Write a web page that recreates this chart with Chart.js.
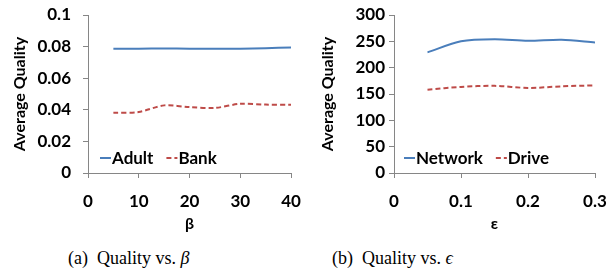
<!DOCTYPE html>
<html><head><meta charset="utf-8">
<script src="https://cdn.jsdelivr.net/npm/chart.js@4.4.0/dist/chart.umd.min.js"></script>
<style>
html,body{margin:0;padding:0;background:#fff;width:616px;height:272px;overflow:hidden;}
.wrap{position:absolute;top:0;width:308px;height:236px;}
.cap{position:absolute;top:248px;font-family:"Liberation Serif","Times New Roman",serif;font-size:18px;color:#000;white-space:nowrap;}
</style></head>
<body>
<div class="wrap" style="left:0"><canvas id="c1" width="308" height="236"></canvas></div>
<div class="wrap" style="left:308px"><canvas id="c2" width="308" height="236"></canvas></div>
<div class="cap" style="left:68px">(a)&nbsp; Quality vs. <i>β</i></div>
<div class="cap" style="left:332px">(b)&nbsp; Quality vs. <i>ϵ</i></div>
<script>
// ---- data ----
const betaValues = [5, 10, 15, 20, 25, 30, 35, 40];
const adultQuality = [0.0787, 0.0787, 0.0788, 0.0787, 0.0786, 0.0787, 0.0790, 0.0794];
const bankQuality  = [0.0381, 0.0386, 0.0428, 0.0417, 0.0412, 0.0438, 0.0433, 0.0432];
const epsValues = [0.05, 0.1, 0.15, 0.2, 0.25, 0.3];
const networkQuality = [229, 250, 254, 251, 253, 248];
const driveQuality   = [158, 163.5, 165.5, 161.5, 164.5, 166.5];
const betaTicks = [0, 10, 20, 30, 40];
const betaTickLabels = ['0', '10', '20', '30', '40'];
const qualATicks = [0, 0.02, 0.04, 0.06, 0.08, 0.1];
const qualATickLabels = ['0', '0.02', '0.04', '0.06', '0.08', '0.1'];
const epsTicks = [0, 0.1, 0.2, 0.3];
const epsTickLabels = ['0', '0.1', '0.2', '0.3'];
const qualBTicks = [0, 50, 100, 150, 200, 250, 300];
const qualBTickLabels = ['0', '50', '100', '150', '200', '250', '300'];

const BLUE = '#4a7ebb', RED = '#be4b48', AXIS = '#868686';
const FONT = 'Lato, "DejaVu Sans", sans-serif';

function pts(xs, ys){ return xs.map((x,i)=>({x:x, y:ys[i]})); }

const legendPlugin = {
  id: 'inLegend',
  afterDraw(chart, args, opts){
    const ctx = chart.ctx, ca = chart.chartArea;
    let x = ca.left + opts.dx;
    const y = ca.bottom - opts.dy;
    ctx.save();
    ctx.font = 'bold 17px ' + FONT;
    ctx.textBaseline = 'middle';
    chart.data.datasets.forEach(ds => {
      ctx.strokeStyle = ds.borderColor;
      ctx.lineWidth = 2;
      ctx.setLineDash(ds.borderDash || []);
      ctx.beginPath(); ctx.moveTo(x, y); ctx.lineTo(x + 11, y); ctx.stroke();
      ctx.setLineDash([]);
      x += 12;
      ctx.fillStyle = '#000';
      ctx.fillText(ds.label, x, y + 1);
      x += ctx.measureText(ds.label).width + 13;
    });
    ctx.restore();
  }
};

function makeChart(id, cfg){
  const yw = cfg.yWidth;
  return new Chart(document.getElementById(id), {
    type: 'line',
    data: { datasets: [
      { label: cfg.l1, data: pts(cfg.xs, cfg.y1), borderColor: BLUE, borderWidth: 2, pointRadius: 0, tension: 0.3, fill: false },
      { label: cfg.l2, data: pts(cfg.xs, cfg.y2), borderColor: RED, borderWidth: 2, borderDash: [5,3], pointRadius: 0, tension: 0.3, fill: false }
    ]},
    options: {
      responsive: false, animation: false, devicePixelRatio: 1,
      layout: { padding: { left: 0, right: cfg.padR, top: 15, bottom: 0 } },
      plugins: { legend: { display: false }, tooltip: { enabled: false }, inLegend: { dx: cfg.legDx, dy: 15 } },
      scales: {
        x: {
          type: 'linear', min: cfg.xTicks[0], max: cfg.xTicks[cfg.xTicks.length-1],
          afterBuildTicks: s => { s.ticks = cfg.xTicks.map(v => ({value: v})); },
          afterFit: s => { s.height = 236 - 173; s.paddingLeft = 0; s.paddingRight = 0; },
          ticks: { callback: (v, i) => cfg.xLabels[i], font: { family: FONT, size: 17, weight: 'bold' }, color: '#000', padding: 13, maxRotation: 0, autoSkip: false },
          grid: { drawOnChartArea: false, color: AXIS, tickLength: 5, tickColor: AXIS },
          border: { color: AXIS, width: 1 },
          title: { display: true, text: cfg.xTitle, font: { family: FONT, size: 16, weight: 'bold' }, color: '#000', padding: { top: 0, bottom: 3 } }
        },
        y: {
          min: cfg.yTicks[0], max: cfg.yTicks[cfg.yTicks.length-1],
          afterBuildTicks: s => { s.ticks = cfg.yTicks.map(v => ({value: v})); },
          afterFit: s => { s.width = yw; s.paddingTop = 0; s.paddingBottom = 0; },
          ticks: { callback: (v, i) => cfg.yLabels[i], font: { family: FONT, size: 17, weight: 'bold' }, color: '#000', padding: cfg.yPad, autoSkip: false },
          grid: { drawOnChartArea: false, color: AXIS, tickLength: 5, tickColor: AXIS },
          border: { color: AXIS, width: 1 },
          title: { display: true, text: 'Average Quality', font: { family: FONT, size: 16, weight: 'bold' }, color: '#000', padding: { top: 10, bottom: 0 } }
        }
      }
    },
    plugins: [legendPlugin]
  });
}

makeChart('c1', { xs: betaValues, y1: adultQuality, y2: bankQuality, l1: 'Adult', l2: 'Bank',
  xTicks: betaTicks, xLabels: betaTickLabels, yTicks: qualATicks, yLabels: qualATickLabels,
  xTitle: 'β', yWidth: 88, padR: 17, yPad: 12, legDx: 12 });
makeChart('c2', { xs: epsValues, y1: networkQuality, y2: driveQuality, l1: 'Network', l2: 'Drive',
  xTicks: epsTicks, xLabels: epsTickLabels, yTicks: qualBTicks, yLabels: qualBTickLabels,
  xTitle: 'ε', yWidth: 86, padR: 21, yPad: 4, legDx: 10 });
</script>
</body></html>
